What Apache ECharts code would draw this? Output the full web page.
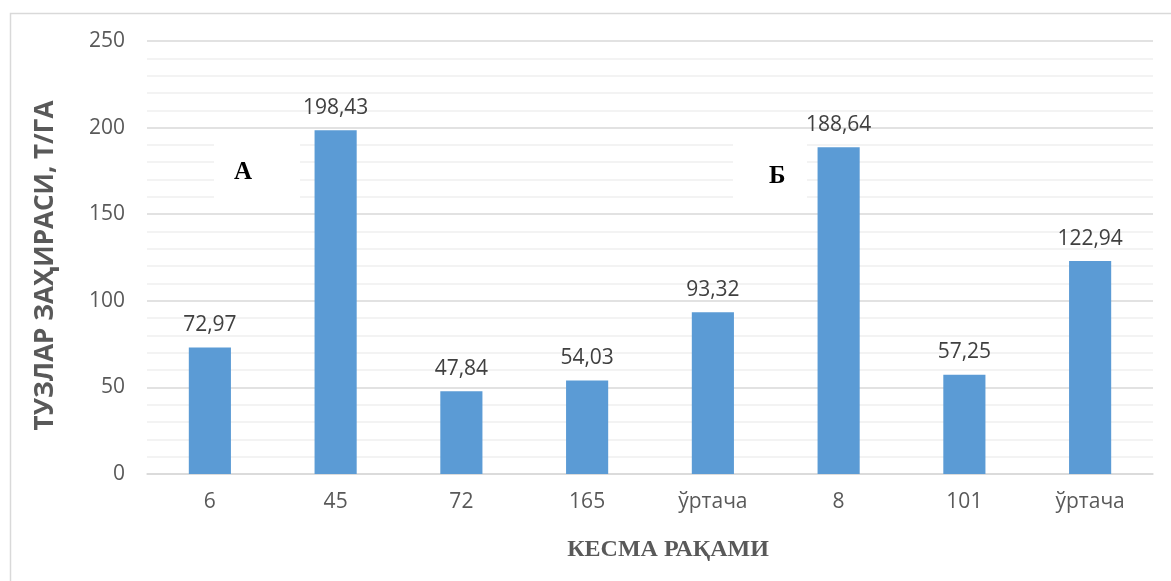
<!DOCTYPE html>
<html>
<head>
  <meta charset="utf-8">
  <title>Тузлар захираси</title>
  <script src="https://cdn.jsdelivr.net/npm/echarts@6/dist/echarts.min.js"></script>
  <style>
    html, body { margin: 0; padding: 0; background: #fff; }
    #chart { width: 1171px; height: 581px; }
  </style>
</head>
<body>
  <div id="chart"></div>
  <script>
    // кесма рақамлари ва қийматлар
    var categories = ['6', '45', '72', '165', 'ўртача', '8', '101', 'ўртача'];
    var values = [72.97, 198.43, 47.84, 54.03, 93.32, 188.64, 57.25, 122.94];
    var yTicks = [0, 50, 100, 150, 200, 250];

    var chart = echarts.init(document.getElementById('chart'));

    var option = {
      animation: false,
      textStyle: { fontFamily: 'Open Sans' },
      grid: { left: 147, right: 18, top: 41, bottom: 107 },
      graphic: [
        {
          type: 'rect', left: 8, top: 11, z: -10, silent: true,
          shape: { width: 1200, height: 620 },
          style: { fill: 'none', stroke: '#D9D9D9', lineWidth: 1.5 }
        },
        {
          type: 'rect', left: 214, top: 143, z: 50, silent: true,
          shape: { width: 86, height: 62 },
          style: { fill: '#fff' }
        },
        {
          type: 'text', left: 234, top: 160, z: 51, silent: true,
          style: { text: 'А', font: 'bold 25px "Liberation Serif"', fill: '#000' }
        },
        {
          type: 'rect', left: 733, top: 143, z: 50, silent: true,
          shape: { width: 74, height: 62 },
          style: { fill: '#fff' }
        },
        {
          type: 'text', left: 769, top: 164, z: 51, silent: true,
          style: { text: 'Б', font: 'bold 25px "Liberation Serif"', fill: '#000' }
        }
      ],
      xAxis: {
        type: 'category',
        data: categories,
        name: 'КЕСМА РАҚАМИ',
        nameLocation: 'middle',
        nameGap: 64,
        nameTextStyle: {
          fontFamily: 'Liberation Serif', fontWeight: 'bold', fontSize: 24, color: '#595959',
          padding: [0, 0, 0, 36]
        },
        axisLine: { lineStyle: { color: '#D9D9D9', width: 1.5 } },
        axisTick: { show: false },
        axisLabel: { fontSize: 21, color: '#595959', margin: 18 }
      },
      yAxis: {
        type: 'value',
        min: yTicks[0],
        max: yTicks[yTicks.length - 1],
        interval: 50,
        name: 'ТУЗЛАР ЗАҲИРАСИ, Т/ГА',
        nameLocation: 'middle',
        nameGap: 88,
        nameTextStyle: { fontWeight: 'bold', fontSize: 26, color: '#595959', padding: [0, 16, 0, 0] },
        axisLine: { show: false },
        axisTick: { show: false },
        axisLabel: { fontSize: 21, color: '#595959', margin: 22 },
        splitLine: { lineStyle: { color: '#D9D9D9', width: 1.5 } },
        minorTick: { show: false, splitNumber: 5 },
        minorSplitLine: { show: true, lineStyle: { color: '#F0F0F0', width: 1.5 } }
      },
      series: [{
        type: 'bar',
        data: values,
        barWidth: '33.5%',
        itemStyle: { color: '#5B9BD5' },
        label: {
          show: true,
          position: 'top',
          distance: 12,
          fontSize: 21,
          color: '#404040',
          formatter: function (p) {
            return p.value.toFixed(2).replace('.', ',');
          }
        }
      }]
    };

    chart.setOption(option);
  </script>
</body>
</html>
